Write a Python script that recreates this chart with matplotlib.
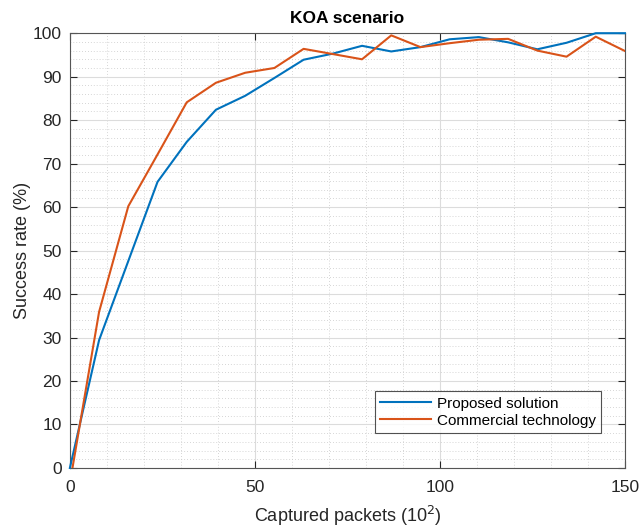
import numpy as np
import matplotlib.pyplot as plt
from matplotlib.ticker import MultipleLocator

# paquetes capturados (x100), 20 puntos de 0 a 150
paquetes = np.linspace(0, 150, 20)
paquetes_comercial = paquetes.copy()
paquetes_comercial[0] = 0.7

# tasa de exito (%)
exito_propuesta = [0, 29.4, 47.6, 65.8, 75.0, 82.4, 85.6, 89.7, 93.9, 95.3,
                   97.1, 95.8, 96.8, 98.6, 99.1, 97.9, 96.3, 97.8, 100, 100]
exito_comercial = [0, 35.9, 60.2, 72.1, 84.1, 88.6, 90.9, 92.0, 96.4, 95.2,
                   94.0, 99.5, 96.8, 97.7, 98.5, 98.7, 96.0, 94.6, 99.2, 95.9]

azul = '#0072BD'
naranja = '#D95319'

plt.rcParams['font.family'] = ['Liberation Sans', 'DejaVu Sans']

fig = plt.figure(figsize=(6.41, 5.27), dpi=100)
ax = fig.add_axes([0.109, 0.112, 0.866, 0.825])

ax.plot(paquetes, exito_propuesta, color=azul, linewidth=1.5,
        label='Proposed solution', clip_on=False, zorder=3)
ax.plot(paquetes_comercial, exito_comercial, color=naranja, linewidth=1.5,
        label='Commercial technology', zorder=3)

ax.set_xlim(0, 150)
ax.set_ylim(0, 100)
ax.xaxis.set_major_locator(MultipleLocator(50))
ax.xaxis.set_minor_locator(MultipleLocator(10))
ax.yaxis.set_major_locator(MultipleLocator(10))
ax.yaxis.set_minor_locator(MultipleLocator(2))

# rejilla estilo MATLAB
ax.grid(True, which='major', color='#dcdcdc', linewidth=0.8, linestyle='-')
ax.grid(True, which='minor', color='#c8c8c8', linewidth=0.6, linestyle=(0, (1, 2.5)))
ax.set_axisbelow(True)

ax.tick_params(which='major', direction='in', length=5, width=0.8,
               top=True, right=True, labelsize=12.5, colors='#262626')
ax.tick_params(axis='x', which='major', pad=9)
ax.tick_params(axis='y', which='major', pad=6)
ax.tick_params(which='minor', length=0, top=True, right=True)
for s in ax.spines.values():
    s.set_color('#555555')
    s.set_linewidth(0.8)

ax.set_title('KOA scenario', fontsize=12.5, fontweight='bold', pad=7)
ax.set_xlabel('Captured packets (10$^2$)', fontsize=13, color='#262626', labelpad=6)
ax.set_ylabel('Success rate (%)', fontsize=13, color='#262626', labelpad=1)

leg = ax.legend(loc='lower right', bbox_to_anchor=(0.957, 0.080),
                fontsize=11, handlelength=3.3, frameon=True, fancybox=False,
                borderpad=0.35, labelspacing=0.2, handletextpad=0.4,
                borderaxespad=0)
leg.get_frame().set_edgecolor('#262626')
leg.get_frame().set_linewidth(0.8)

fig.savefig('out.png', dpi=100)
